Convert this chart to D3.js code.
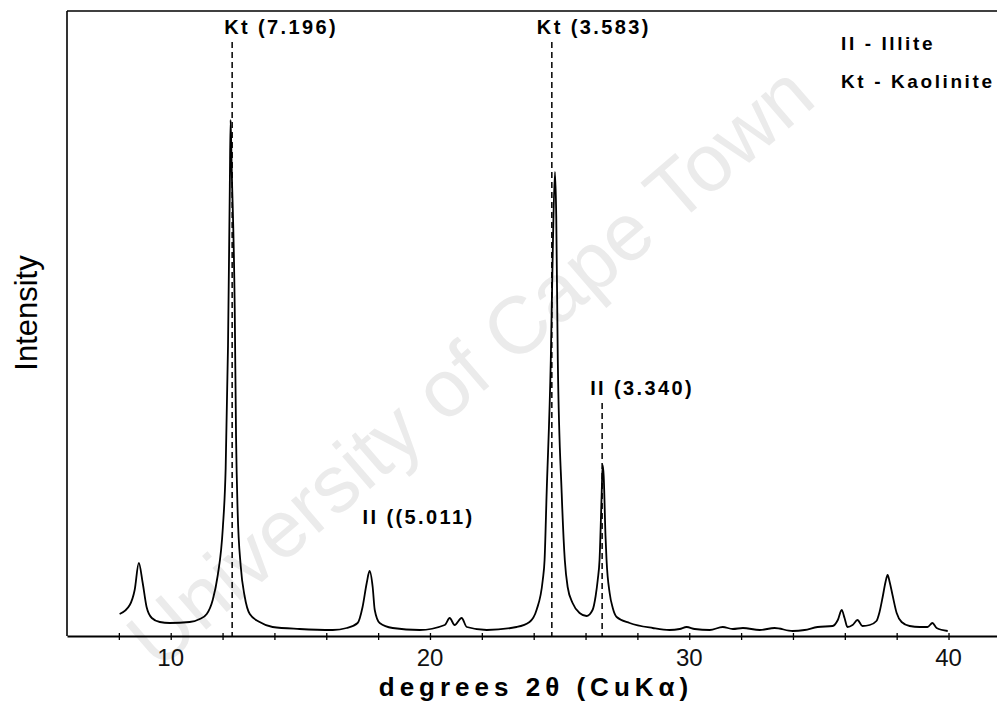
<!DOCTYPE html>
<html>
<head>
<meta charset="utf-8">
<script src="https://cdn.jsdelivr.net/npm/d3@7"></script>
<style>
  html, body { margin: 0; padding: 0; background: #fff; }
  svg { display: block; font-family: "Liberation Sans", Arial, Helvetica, sans-serif; }
</style>
</head>
<body>
<svg id="chart" width="997" height="701"></svg>
<script>
// ---------------- data ----------------
// 2θ (degrees) of each digitised point
const twoTheta = [
  8.03, 8.42, 8.61, 8.77, 8.92, 9.07, 9.27, 9.58, 9.96, 10.73, 11.12, 11.39, 11.62, 11.81,
  12.01, 12.12, 12.21, 12.28, 12.31, 12.35, 12.47, 12.52, 12.58, 12.70, 12.85, 13.05, 13.43,
  13.93, 14.97, 16.25, 16.79, 17.21, 17.40, 17.56, 17.67, 17.79, 17.87, 18.06, 18.56, 19.60,
  20.57, 20.76, 20.95, 21.22, 21.42, 22.19, 23.34, 23.84, 24.11, 24.35, 24.42, 24.50, 24.66,
  24.74, 24.82, 24.87, 24.93, 25.08, 25.20, 25.31, 25.50, 25.77, 26.04, 26.27, 26.39, 26.47,
  26.54, 26.62, 26.66, 26.70, 26.77, 26.81, 26.93, 27.05, 27.20, 27.70, 28.59, 29.24, 29.63,
  29.90, 30.21, 30.79, 31.29, 31.68, 32.07, 32.72, 33.29, 33.99, 34.45, 34.95, 35.53, 35.73,
  35.88, 35.99, 36.10, 36.30, 36.49, 36.68, 36.96, 37.22, 37.34, 37.46, 37.57, 37.65, 37.73,
  37.84, 38.00, 38.19, 38.50, 38.89, 39.19, 39.38, 39.54, 39.97
];
// intensity (arbitrary units) at each point
const intensity = [
  22, 31, 46, 73, 53, 29, 18, 14, 13, 14, 17, 22, 36, 60,
  108, 168, 290, 450, 516, 470, 326, 200, 126, 70, 40, 22, 14,
  9, 7, 6, 8, 13, 29, 53, 65, 49, 26, 13, 8, 6,
  11, 18, 11, 18, 9, 6, 9, 14, 26, 56, 76, 143, 276,
  390, 464, 420, 276, 143, 76, 49, 33, 23, 20, 26, 40, 56,
  76, 140, 171, 160, 100, 76, 43, 28, 19, 13, 8, 6, 7,
  9, 7, 6, 9, 7, 8, 6, 8, 5, 6, 9, 10, 16,
  26, 18, 9, 11, 16, 10, 11, 15, 24, 39, 54, 61, 54,
  41, 23, 14, 10, 9, 9, 13, 8, 5
];
// peak annotations
const peakLabels   = ["Kt (7.196)", "Kt (3.583)", "II (3.340)", "II ((5.011)"];
const peakTheta    = [12.37, 24.70, 26.64, 17.67];
const peakDashed   = [true, true, true, false];
// legend
const legendLabels = ["II - Illite", "Kt - Kaolinite"];
// axis ticks
const tickValues   = [8, 10, 12, 14, 16, 18, 20, 22, 24, 26, 28, 30, 32, 34, 36, 38, 40];
const tickLabels   = [10, 20, 30, 40];
const xTitle = "degrees 2θ (CuKα)";
const yTitle = "Intensity";
const watermark = "University of Cape Town";

// ---------------- layout ----------------
const svg = d3.select("#chart");
const mLeft = 67, mRight = 997, mTop = 11, mBottom = 636;

const x = d3.scaleLinear().domain([6, 41.87]).range([mLeft, mRight]);
const y = d3.scaleLinear().domain([0, 625]).range([mBottom, mTop]);

// watermark (behind everything)
svg.append("text")
  .attr("transform", "translate(470,366) rotate(-40.7)")
  .attr("text-anchor", "middle")
  .attr("dominant-baseline", "central")
  .attr("font-size", 81)
  .attr("fill", "#ebebeb")
  .text(watermark);

// frame: left axis line, top line
svg.append("line").attr("x1", mLeft).attr("x2", mLeft).attr("y1", mTop).attr("y2", mBottom)
  .attr("stroke", "#000").attr("stroke-width", 1.6);
svg.append("line").attr("x1", mLeft).attr("x2", mRight).attr("y1", mTop).attr("y2", mTop)
  .attr("stroke", "#000").attr("stroke-width", 1.6);

// x axis
const xAxis = d3.axisBottom(x).tickValues(tickValues).tickSize(0).tickFormat("");
const gx = svg.append("g").attr("transform", `translate(0,${mBottom})`).call(xAxis);
gx.select(".domain").attr("stroke", "#000").attr("stroke-width", 1.8);
gx.selectAll(".tick").append("line")
  .attr("y1", -3).attr("y2", 4).attr("stroke", "#000").attr("stroke-width", 1.3);

svg.append("g").selectAll("text").data(tickLabels).join("text")
  .attr("x", d => x(d))
  .attr("y", 666)
  .attr("text-anchor", "middle")
  .attr("font-size", 24)
  .attr("fill", "#111")
  .text(d => d);

// axis titles
svg.append("text")
  .attr("x", 536).attr("y", 696)
  .attr("text-anchor", "middle")
  .attr("font-size", 26)
  .attr("font-weight", "bold")
  .attr("letter-spacing", 5)
  .text(xTitle);

svg.append("text")
  .attr("transform", "translate(37,313) rotate(-90)")
  .attr("text-anchor", "middle")
  .attr("font-size", 31)
  .text(yTitle);

// dashed peak markers
const dashTop = [594, 594, 233, 0];
peakTheta.forEach((t, i) => {
  if (!peakDashed[i]) return;
  svg.append("line")
    .attr("x1", x(t)).attr("x2", x(t))
    .attr("y1", y(dashTop[i])).attr("y2", mBottom)
    .attr("stroke", "#000").attr("stroke-width", 1.5)
    .attr("stroke-dasharray", "6,4");
});

// pattern line
const pts = twoTheta.map((t, i) => [t, intensity[i]]);
const line = d3.line().x(d => x(d[0])).y(d => y(d[1])).curve(d3.curveMonotoneX);
svg.append("path")
  .attr("d", line(pts))
  .attr("fill", "none")
  .attr("stroke", "#000")
  .attr("stroke-width", 1.8)
  .attr("stroke-linejoin", "round");

// peak labels
const labelDx = [-8, -15, -12, -7];
const labelY  = [34, 34, 395, 524];
peakLabels.forEach((lab, i) => {
  svg.append("text")
    .attr("x", x(peakTheta[i]) + labelDx[i])
    .attr("y", labelY[i])
    .attr("font-size", 20)
    .attr("font-weight", "bold")
    .attr("letter-spacing", 2.4)
    .text(lab);
});

// legend
legendLabels.forEach((lab, i) => {
  svg.append("text")
    .attr("x", 841)
    .attr("y", 50 + i * 38)
    .attr("font-size", 19)
    .attr("font-weight", "bold")
    .attr("letter-spacing", 2.6)
    .text(lab);
});
</script>
</body>
</html>
